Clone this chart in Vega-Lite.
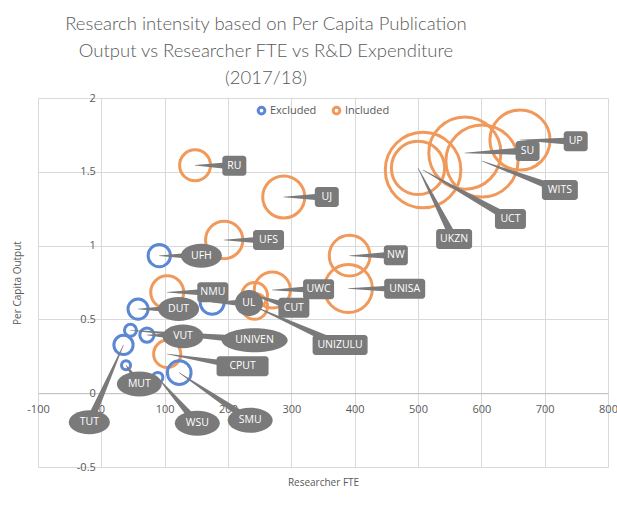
{
  "$schema": "https://vega.github.io/schema/vega-lite/v6.json",
  "autosize": {"type": "none"},
  "width": 570,
  "height": 369,
  "padding": {"left": 38, "top": 98, "right": 9, "bottom": 39},
  "background": "white",
  "config": {"view": {"stroke": null}, "font": "Open Sans"},
  "title": {
    "text": ["Research intensity based on Per Capita Publication", "Output vs Researcher FTE vs R&D Expenditure", "(2017/18)"],
    "font": "Lato", "fontWeight": 300, "fontSize": 18.5, "color": "#595959",
    "lineHeight": 27, "anchor": "middle", "dx": -57, "offset": 5
  },
  "data": {"values": [
    {"name": "UP", "status": "Included", "fte": 661, "output": 1.715, "rd": 980, "labelFTE": 749, "labelOutput": 1.707},
    {"name": "SU", "status": "Included", "fte": 574, "output": 1.627, "rd": 1411, "labelFTE": 673, "labelOutput": 1.641},
    {"name": "WITS", "status": "Included", "fte": 601, "output": 1.573, "rd": 1411, "labelFTE": 724, "labelOutput": 1.377},
    {"name": "UCT", "status": "Included", "fte": 508, "output": 1.512, "rd": 1549, "labelFTE": 646, "labelOutput": 1.18},
    {"name": "UKZN", "status": "Included", "fte": 500, "output": 1.526, "rd": 769, "labelFTE": 557, "labelOutput": 1.045},
    {"name": "UJ", "status": "Included", "fte": 288, "output": 1.329, "rd": 480, "labelFTE": 356, "labelOutput": 1.329},
    {"name": "NW", "status": "Included", "fte": 392, "output": 0.932, "rd": 449, "labelFTE": 465, "labelOutput": 0.934},
    {"name": "UNISA", "status": "Included", "fte": 390, "output": 0.709, "rd": 627, "labelFTE": 479, "labelOutput": 0.708},
    {"name": "RU", "status": "Included", "fte": 148, "output": 1.544, "rd": 259, "labelFTE": 210, "labelOutput": 1.541},
    {"name": "UFS", "status": "Included", "fte": 194, "output": 1.038, "rd": 377, "labelFTE": 264, "labelOutput": 1.038},
    {"name": "UFH", "status": "Excluded", "fte": 91.5, "output": 0.932, "rd": 135, "labelFTE": 158, "labelOutput": 0.932},
    {"name": "NMU", "status": "Included", "fte": 104, "output": 0.684, "rd": 295, "labelFTE": 176, "labelOutput": 0.684},
    {"name": "DUT", "status": "Excluded", "fte": 58, "output": 0.57, "rd": 110, "labelFTE": 122, "labelOutput": 0.57},
    {"name": "UL", "status": "Excluded", "fte": 175, "output": 0.616, "rd": 157, "labelFTE": 233, "labelOutput": 0.611},
    {"name": "CUT", "status": "Included", "fte": 242, "output": 0.663, "rd": 180, "labelFTE": 304, "labelOutput": 0.579},
    {"name": "UNIZULU", "status": "Included", "fte": 242, "output": 0.588, "rd": 180, "labelFTE": 377, "labelOutput": 0.327},
    {"name": "UWC", "status": "Included", "fte": 270, "output": 0.699, "rd": 353, "labelFTE": 343, "labelOutput": 0.704},
    {"name": "VUT", "status": "Excluded", "fte": 72, "output": 0.394, "rd": 55, "labelFTE": 129, "labelOutput": 0.385},
    {"name": "UNIVEN", "status": "Excluded", "fte": 46, "output": 0.426, "rd": 39, "labelFTE": 242, "labelOutput": 0.358},
    {"name": "TUT", "status": "Excluded", "fte": 35, "output": 0.327, "rd": 100, "labelFTE": -19, "labelOutput": -0.197},
    {"name": "MUT", "status": "Excluded", "fte": 39, "output": 0.189, "rd": 22, "labelFTE": 60, "labelOutput": 0.062},
    {"name": "CPUT", "status": "Included", "fte": 104, "output": 0.266, "rd": 200, "labelFTE": 223, "labelOutput": 0.182},
    {"name": "WSU", "status": "Excluded", "fte": 89, "output": 0.106, "rd": 29, "labelFTE": 151.5, "labelOutput": -0.204},
    {"name": "SMU", "status": "Excluded", "fte": 123, "output": 0.139, "rd": 152, "labelFTE": 235, "labelOutput": -0.184}
  ]},
  "resolve": {"scale": {"size": "independent"}},
  "layer": [
    {
      "mark": {"type": "point", "filled": false, "strokeWidth": 3, "opacity": 1},
      "encoding": {
        "x": {"field": "fte", "type": "quantitative",
          "scale": {"domain": [-100, 800], "nice": false, "zero": false},
          "axis": {"title": "Researcher FTE", "values": [-100, 0, 100, 200, 300, 400, 500, 600, 700, 800],
            "grid": true, "gridColor": "#d9d9d9", "domain": true, "domainColor": "#bfbfbf", "ticks": false,
            "offset": -73.8, "labelPadding": 10, "labelFont": "Open Sans", "labelFontSize": 11, "labelColor": "#595959",
            "labelExpr": "'' + datum.value", "labelFlush": false, "labelOverlap": false,
            "titleFont": "Open Sans", "titleFontSize": 10, "titleFontWeight": "normal", "titleColor": "#595959",
            "titleY": 84, "titleBaseline": "top"}},
        "y": {"field": "output", "type": "quantitative",
          "scale": {"domain": [-0.5, 2], "nice": false, "zero": false},
          "axis": {"title": "Per Capita Output", "values": [-0.5, 0, 0.5, 1, 1.5, 2],
            "grid": true, "gridColor": "#d9d9d9", "domain": false, "ticks": false,
            "offset": -63.33, "labelPadding": 6, "labelFont": "Open Sans", "labelFontSize": 11, "labelColor": "#595959",
            "labelExpr": "'' + datum.value", "labelFlush": false, "labelOverlap": false,
            "titleFont": "Open Sans", "titleFontSize": 10, "titleFontWeight": "normal", "titleColor": "#595959",
            "titleX": -79, "titleY": 184.5}},
        "color": {"field": "status", "type": "nominal",
          "scale": {"domain": ["Excluded", "Included"], "range": ["#5b87d4", "#f0995a"]},
          "legend": {"title": null, "orient": "none", "legendX": 218, "legendY": 7, "direction": "horizontal",
            "symbolType": "circle", "symbolSize": 45, "symbolStrokeWidth": 3, "labelFontSize": 11,
            "labelColor": "#595959", "labelFont": "Open Sans", "columnPadding": 10, "labelOffset": 3}},
        "size": {"field": "rd", "type": "quantitative", "scale": {"domain": [0, 1600], "range": [0, 5900]}, "legend": null}
      }
    },
    {
      "transform": [
        {"fold": ["fte", "labelFTE"], "as": ["kx", "vx"]},
        {"fold": ["output", "labelOutput"], "as": ["ky", "vy"]},
        {"filter": "(datum.kx == 'fte' && datum.ky == 'output') || (datum.kx == 'labelFTE' && datum.ky == 'labelOutput')"}
      ],
      "mark": {"type": "trail", "color": "#7a7a7a"},
      "encoding": {
        "x": {"field": "vx", "type": "quantitative"},
        "y": {"field": "vy", "type": "quantitative"},
        "detail": {"field": "name"},
        "size": {"field": "kx", "type": "ordinal", "scale": {"domain": ["fte", "labelFTE"], "range": [0.5, 8]}, "legend": null}
      }
    },
    {
      "transform": [{"filter": {"field": "name", "oneOf": ["UP", "SU", "UJ", "RU", "NW"]}}],
      "mark": {"type": "rect", "color": "#7a7a7a", "cornerRadius": 3, "xOffset": -12, "x2Offset": 12, "yOffset": -10, "y2Offset": 10},
      "encoding": {"x": {"field": "labelFTE", "type": "quantitative"}, "x2": {"field": "labelFTE"},
        "y": {"field": "labelOutput", "type": "quantitative"}, "y2": {"field": "labelOutput"}}
    },
    {
      "transform": [{"filter": {"field": "name", "oneOf": ["UFS", "UCT", "CUT", "UWC", "NMU"]}}],
      "mark": {"type": "rect", "color": "#7a7a7a", "cornerRadius": 3, "xOffset": -15.5, "x2Offset": 15.5, "yOffset": -10, "y2Offset": 10},
      "encoding": {"x": {"field": "labelFTE", "type": "quantitative"}, "x2": {"field": "labelFTE"},
        "y": {"field": "labelOutput", "type": "quantitative"}, "y2": {"field": "labelOutput"}}
    },
    {
      "transform": [{"filter": {"field": "name", "oneOf": ["WITS", "UKZN"]}}],
      "mark": {"type": "rect", "color": "#7a7a7a", "cornerRadius": 3, "xOffset": -18, "x2Offset": 18, "yOffset": -10, "y2Offset": 10},
      "encoding": {"x": {"field": "labelFTE", "type": "quantitative"}, "x2": {"field": "labelFTE"},
        "y": {"field": "labelOutput", "type": "quantitative"}, "y2": {"field": "labelOutput"}}
    },
    {
      "transform": [{"filter": {"field": "name", "oneOf": ["UNISA"]}}],
      "mark": {"type": "rect", "color": "#7a7a7a", "cornerRadius": 3, "xOffset": -20.5, "x2Offset": 20.5, "yOffset": -10, "y2Offset": 10},
      "encoding": {"x": {"field": "labelFTE", "type": "quantitative"}, "x2": {"field": "labelFTE"},
        "y": {"field": "labelOutput", "type": "quantitative"}, "y2": {"field": "labelOutput"}}
    },
    {
      "transform": [{"filter": {"field": "name", "oneOf": ["CPUT"]}}],
      "mark": {"type": "rect", "color": "#7a7a7a", "cornerRadius": 3, "xOffset": -26, "x2Offset": 26, "yOffset": -10, "y2Offset": 10},
      "encoding": {"x": {"field": "labelFTE", "type": "quantitative"}, "x2": {"field": "labelFTE"},
        "y": {"field": "labelOutput", "type": "quantitative"}, "y2": {"field": "labelOutput"}}
    },
    {
      "transform": [{"filter": {"field": "name", "oneOf": ["UNIZULU"]}}],
      "mark": {"type": "rect", "color": "#7a7a7a", "cornerRadius": 3, "xOffset": -27.5, "x2Offset": 27.5, "yOffset": -10, "y2Offset": 10},
      "encoding": {"x": {"field": "labelFTE", "type": "quantitative"}, "x2": {"field": "labelFTE"},
        "y": {"field": "labelOutput", "type": "quantitative"}, "y2": {"field": "labelOutput"}}
    },
    {
      "transform": [{"filter": {"field": "name", "oneOf": ["UL"]}}],
      "mark": {"type": "point", "filled": true, "color": "#7a7a7a", "opacity": 1, "strokeWidth": 0, "size": 784,
        "shape": "M-1,0A1,0.93,0,1,1,1,0A1,0.93,0,1,1,-1,0Z"},
      "encoding": {"x": {"field": "labelFTE", "type": "quantitative"},
        "y": {"field": "labelOutput", "type": "quantitative"}}
    },
    {
      "transform": [{"filter": {"field": "name", "oneOf": ["UFH", "DUT", "VUT", "TUT"]}}],
      "mark": {"type": "point", "filled": true, "color": "#7a7a7a", "opacity": 1, "strokeWidth": 0, "size": 1681,
        "shape": "M-1,0A1,0.585,0,1,1,1,0A1,0.585,0,1,1,-1,0Z"},
      "encoding": {"x": {"field": "labelFTE", "type": "quantitative"},
        "y": {"field": "labelOutput", "type": "quantitative"}}
    },
    {
      "transform": [{"filter": {"field": "name", "oneOf": ["MUT", "WSU", "SMU"]}}],
      "mark": {"type": "point", "filled": true, "color": "#7a7a7a", "opacity": 1, "strokeWidth": 0, "size": 2025,
        "shape": "M-1,0A1,0.556,0,1,1,1,0A1,0.556,0,1,1,-1,0Z"},
      "encoding": {"x": {"field": "labelFTE", "type": "quantitative"},
        "y": {"field": "labelOutput", "type": "quantitative"}}
    },
    {
      "transform": [{"filter": {"field": "name", "oneOf": ["UNIVEN"]}}],
      "mark": {"type": "point", "filled": true, "color": "#7a7a7a", "opacity": 1, "strokeWidth": 0, "size": 4356,
        "shape": "M-1,0A1,0.364,0,1,1,1,0A1,0.364,0,1,1,-1,0Z"},
      "encoding": {"x": {"field": "labelFTE", "type": "quantitative"},
        "y": {"field": "labelOutput", "type": "quantitative"}}
    },
    {
      "mark": {"type": "text", "color": "white", "font": "Open Sans", "fontSize": 10.5, "align": "center", "baseline": "middle"},
      "encoding": {"x": {"field": "labelFTE", "type": "quantitative"},
        "y": {"field": "labelOutput", "type": "quantitative"},
        "text": {"field": "name"}}
    }
  ]
}
